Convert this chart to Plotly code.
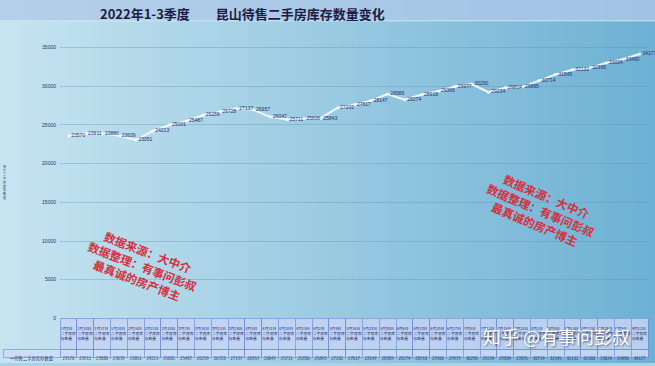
import plotly.graph_objects as go

# ---------------- data ----------------
dates = ["1月3日", "1月10日", "1月17日", "1月24日", "2月14日", "2月21日", "2月28日",
         "3月7日", "3月14日", "3月21日", "3月28日", "4月4日", "4月11日", "4月18日",
         "4月25日", "5月2日", "5月9日", "5月16日", "5月23日", "5月30日", "6月6日",
         "6月13日", "6月20日", "6月27日", "7月4日", "7月11日", "7月18日", "7月25日",
         "8月1日", "8月8日", "8月15日", "8月22日", "8月29日", "9月5日", "9月12日"]
values = [23570, 23911, 23880, 23639, 23051, 24213, 25001, 25487, 26259, 26728,
          27137, 26957, 26047, 25711, 25836, 25843, 27202, 27617, 28147, 28989,
          28274, 28918, 29366, 29977, 30290, 29234, 29804, 29895, 30714, 31545,
          32132, 32368, 33024, 33490, 34177]
series_name = "待售二手房库存数量"
title_text = "2022年1-3季度　　昆山待售二手房库存数量变化"
y_ticks = [0, 5000, 10000, 15000, 20000, 25000, 30000, 35000]
watermark = "数据来源：大中介<br>数据整理：有事问彭叔<br>最真诚的房产博主"
credit = "知乎 @有事问彭叔"

categories = [d + "二手房库存数量" for d in dates]
header_labels = [d + "<br>二手房库<br>存数量" for d in dates]

W, H = 655, 366
CJK = "Noto Sans CJK SC"
NAVY = "#2c2e70"

fig = go.Figure()

# line series
fig.add_trace(go.Scatter(
    x=categories, y=values, mode="lines+markers+text",
    text=[str(v) for v in values], textposition="middle right",
    textfont=dict(size=5, color=NAVY, family="Liberation Sans"),
    line=dict(color="#eef7fc", width=2),
    marker=dict(size=3, color="#f4faff"),
    cliponaxis=False, showlegend=False, name=series_name,
))

# data table below the chart
n = len(values)
fig.add_trace(go.Table(
    domain=dict(x=[3 / W, 648 / W], y=[0, 45 / H]),
    columnwidth=[57] + [16.8] * n,
    header=dict(
        values=[""] + header_labels,
        height=20,
        align="center",
        font=dict(size=3.8, color=NAVY, family=CJK),
        fill=dict(color=["rgba(0,0,0,0)"] + ["rgba(196,212,245,0.85)"] * n),
        line=dict(color=["rgba(0,0,0,0)"] + ["#6a86d0"] * n, width=0.6),
    ),
    cells=dict(
        values=[["━" + series_name]] + [[str(v)] for v in values],
        height=8,
        align="center",
        font=dict(size=4.3, color=NAVY, family=CJK),
        fill=dict(color="rgba(206,220,248,0.85)"),
        line=dict(color="#6a86d0", width=0.6),
    ),
))

# ---------------- background gradient ----------------
shapes = []
NS = 66
left, right = (198, 228, 240), (110, 177, 212)
for i in range(NS):
    t = i / (NS - 1)
    c = tuple(round(left[k] + (right[k] - left[k]) * t) for k in range(3))
    shapes.append(dict(type="rect", xref="paper", yref="paper",
                       x0=i / NS, x1=(i + 1) / NS + 0.002, y0=0, y1=1 - 21 / H,
                       fillcolor="rgb(%d,%d,%d)" % c, line=dict(width=0), layer="below"))
tl, tr = (180, 207, 233), (160, 195, 229)
for i in range(NS):
    t = i / (NS - 1)
    c = tuple(round(tl[k] + (tr[k] - tl[k]) * t) for k in range(3))
    shapes.append(dict(type="rect", xref="paper", yref="paper",
                       x0=i / NS, x1=(i + 1) / NS + 0.002, y0=1 - 21 / H, y1=1,
                       fillcolor="rgb(%d,%d,%d)" % c, line=dict(width=0), layer="below"))
shapes.append(dict(type="line", xref="paper", yref="paper", x0=0, x1=1,
                   y0=1 - 21 / H, y1=1 - 21 / H,
                   line=dict(color="rgba(230,240,250,0.7)", width=1), layer="below"))

# ---------------- annotations ----------------
annotations = [
    dict(text=title_text, x=242 / W, y=1 - 14 / H, xref="paper", yref="paper",
         showarrow=False, xanchor="center", yanchor="middle",
         font=dict(size=13, color="#1c1c44", family=CJK, weight="bold")),
    dict(text="<br>".join(list(series_name)), x=4 / W, y=1 - 183 / H,
         xref="paper", yref="paper", showarrow=False, xanchor="center",
         yanchor="middle", font=dict(size=3, color=NAVY, family=CJK)),
    dict(text=watermark, x=142 / W, y=1 - 268 / H, xref="paper", yref="paper",
         showarrow=False, textangle=21, align="center",
         font=dict(size=11.5, color="#d4303f", family=CJK, weight="bold"),
         xanchor="center", yanchor="middle"),
    dict(text=watermark, x=540 / W, y=1 - 212 / H, xref="paper", yref="paper",
         showarrow=False, textangle=23, align="center",
         font=dict(size=11.5, color="#d4303f", family=CJK, weight="bold"),
         xanchor="center", yanchor="middle"),
    dict(text=credit, x=556 / W, y=1 - 339 / H, xref="paper", yref="paper",
         showarrow=False, xanchor="center", yanchor="middle",
         font=dict(size=18, color="white", family=CJK,
                   shadow="1px 1px 2px rgba(0,0,0,0.45)")),
]

ymax = 35500
px_per = 39 / 5000
y_top_px = 321 - ymax * px_per

fig.update_layout(
    width=W, height=H,
    margin=dict(l=0, r=0, t=0, b=0),
    paper_bgcolor="#a9d2e6",
    plot_bgcolor="rgba(0,0,0,0)",
    shapes=shapes,
    annotations=annotations,
    showlegend=False,
    xaxis=dict(domain=[60 / W, 648 / W], type="category",
               range=[-0.5, n - 0.5], showticklabels=False, showgrid=False,
               zeroline=False, showline=False, ticks=""),
    yaxis=dict(domain=[(H - 321) / H, (H - y_top_px) / H], range=[0, ymax],
               tickvals=y_ticks, tickformat="d", showgrid=True,
               gridcolor="rgba(95,140,175,0.35)", gridwidth=1,
               zeroline=False, showline=False, ticks="",
               tickfont=dict(size=5, color=NAVY, family="Liberation Sans"),
               ticklabelstandoff=3),
)

fig.write_html("out.html")
